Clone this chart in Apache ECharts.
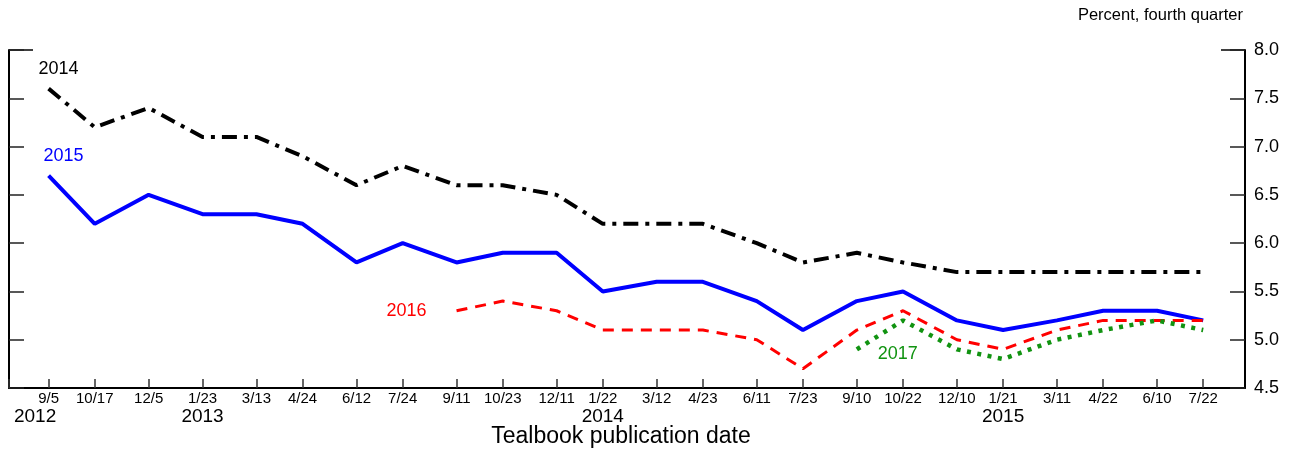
<!DOCTYPE html>
<html>
<head>
<meta charset="utf-8">
<script src="https://cdn.jsdelivr.net/npm/echarts@6/dist/echarts.min.js"></script>
<style>
html, body { margin: 0; padding: 0; background: #fff; }
#chart { width: 1293px; height: 450px; }
</style>
</head>
<body>
<div id="chart"></div>
<script>
// Tealbook publication dates
var dates = ['2012-09-05', '2012-10-17', '2012-12-05', '2013-01-23', '2013-03-13', '2013-04-24',
    '2013-06-12', '2013-07-24', '2013-09-11', '2013-10-23', '2013-12-11', '2014-01-22',
    '2014-03-12', '2014-04-23', '2014-06-11', '2014-07-23', '2014-09-10', '2014-10-22',
    '2014-12-10', '2015-01-21', '2015-03-11', '2015-04-22', '2015-06-10', '2015-07-22'];

// fourth-quarter projections by target year
var y2014 = [7.6, 7.2, 7.4, 7.1, 7.1, 6.9, 6.6, 6.8, 6.6, 6.6, 6.5, 6.2,
    6.2, 6.2, 6.0, 5.8, 5.9, 5.8, 5.7, 5.7, 5.7, 5.7, 5.7, 5.7];
var y2015 = [6.7, 6.2, 6.5, 6.3, 6.3, 6.2, 5.8, 6.0, 5.8, 5.9, 5.9, 5.5,
    5.6, 5.6, 5.4, 5.1, 5.4, 5.5, 5.2, 5.1, 5.2, 5.3, 5.3, 5.2];
var y2016 = [5.3, 5.4, 5.3, 5.1, 5.1, 5.1, 5.0, 4.7, 5.1, 5.3, 5.0, 4.9, 5.1, 5.2, 5.2, 5.2];  // from 9/11/2013
var y2017 = [4.9, 5.2, 4.9, 4.8, 5.0, 5.1, 5.2, 5.1];  // from 9/10/2014

var FONT = "'Liberation Sans', Arial, sans-serif";
var times = dates.map(function (d) { return Date.parse(d); });
var xMin = Date.parse('2012-07-31'), xMax = Date.parse('2015-08-29');
// the first custom value gets dropped, so lead with the axis minimum
var tickVals = [xMin].concat(times);

var pairs = function (vals) {
    var off = times.length - vals.length;
    return vals.map(function (v, i) { return [times[off + i], v]; });
};

// put the year name on the first data point only
var withLabel = function (arr, name, color, offset) {
    arr[0] = {
        value: arr[0],
        label: {
            show: true, position: 'inside', offset: offset,
            formatter: name,
            color: color, fontSize: 18, fontFamily: FONT
        }
    };
    return arr;
};

var lineSeries = function (name, vals, color, width, dash, offset) {
    return {
        name: name,
        type: 'line',
        yAxisIndex: 1,
        data: withLabel(pairs(vals), name, color, offset),
        symbol: 'circle',
        symbolSize: 1,
        showSymbol: true,
        itemStyle: { color: 'transparent' },
        lineStyle: { color: color, width: width, type: dash, cap: 'butt' },
        label: { show: false },
        emphasis: { disabled: true },
        silent: true
    };
};

var yAxisCommon = function (pos, showLabels) {
    return {
        type: 'value',
        position: pos,
        min: 4.5,
        max: 8,
        interval: 0.5,
        axisLine: { show: true, lineStyle: { color: '#000', width: 2 } },
        axisTick: { show: true, inside: true, length: 15, lineStyle: { color: '#222', width: 1.5 } },
        splitLine: { show: false },
        axisLabel: {
            show: showLabels, margin: 9, color: '#000', fontSize: 18, fontFamily: FONT,
            formatter: function (v) { return v.toFixed(1); }
        }
    };
};

var chart = echarts.init(document.getElementById('chart'));

var gridLeft = 9, gridRight = 48, gridTop = 50, gridBottom = 62;

chart.setOption({
    animation: false,
    backgroundColor: '#fff',
    title: {
        text: 'Percent, fourth quarter',
        right: 50,
        top: 7,
        padding: 0,
        textStyle: { color: '#000', fontSize: 16.5, fontWeight: 'normal', fontFamily: FONT }
    },
    grid: {
        left: gridLeft, right: gridRight, top: gridTop, bottom: gridBottom,
        containLabel: false, outerBoundsMode: 'none'
    },
    xAxis: {
        type: 'value',
        min: xMin,
        max: xMax,
        name: 'Tealbook publication date',
        nameLocation: 'middle',
        nameGap: 37,
        nameMoveOverlap: false,
        nameTextStyle: { color: '#000', fontSize: 23, fontFamily: FONT, padding: [0, 12, 0, 0] },
        axisLine: { show: true, lineStyle: { color: '#000', width: 2 } },
        axisTick: { show: true, inside: true, length: 9, customValues: tickVals, lineStyle: { color: '#333', width: 1.5 } },
        splitLine: { show: false },
        axisLabel: {
            customValues: tickVals,
            margin: 3,
            color: '#000',
            fontFamily: FONT,
            hideOverlap: false,
            showMinLabel: true,
            showMaxLabel: true,
            formatter: function (v) {
                var i = times.indexOf(v);
                if (i < 0) return '';
                var d = new Date(v);
                var txt = '{d|' + (d.getUTCMonth() + 1) + '/' + d.getUTCDate() + '}';
                var prev = i > 0 ? new Date(times[i - 1]).getUTCFullYear() : null;
                if (i === 0) {
                    txt += '\n{y0|' + d.getUTCFullYear() + '}';
                } else if (prev !== d.getUTCFullYear()) {
                    txt += '\n{y|' + d.getUTCFullYear() + '}';
                }
                return txt;
            },
            rich: {
                d: { fontSize: 15, lineHeight: 16, fontFamily: FONT, color: '#000' },
                y: { fontSize: 19, lineHeight: 20, fontFamily: FONT, color: '#000' },
                y0: { fontSize: 19, lineHeight: 20, fontFamily: FONT, color: '#000', padding: [0, 27, 0, 0] }
            }
        }
    },
    yAxis: [yAxisCommon('left', false), yAxisCommon('right', true)],
    series: [
        lineSeries('2014', y2014, '#000000', 4, [15, 7, 4, 7], [10, -20]),
        lineSeries('2015', y2015, '#0000ff', 4, 'solid', [15, -20]),
        lineSeries('2016', y2016, '#ff0000', 3, [11, 8], [-50, 0]),
        lineSeries('2017', y2017, '#119311', 4.5, [4, 6.5], [41, 5])
    ]
});

// longer caps at the top of both vertical axes
var topY = chart.convertToPixel({ yAxisIndex: 0 }, 8);
var rightX = 1293 - gridRight;
chart.setOption({
    graphic: [
        { type: 'line', shape: { x1: gridLeft, y1: topY, x2: gridLeft + 24, y2: topY }, style: { stroke: '#000', lineWidth: 1.5 } },
        { type: 'line', shape: { x1: rightX - 24, y1: topY, x2: rightX, y2: topY }, style: { stroke: '#000', lineWidth: 1.5 } }
    ]
});
</script>
</body>
</html>
